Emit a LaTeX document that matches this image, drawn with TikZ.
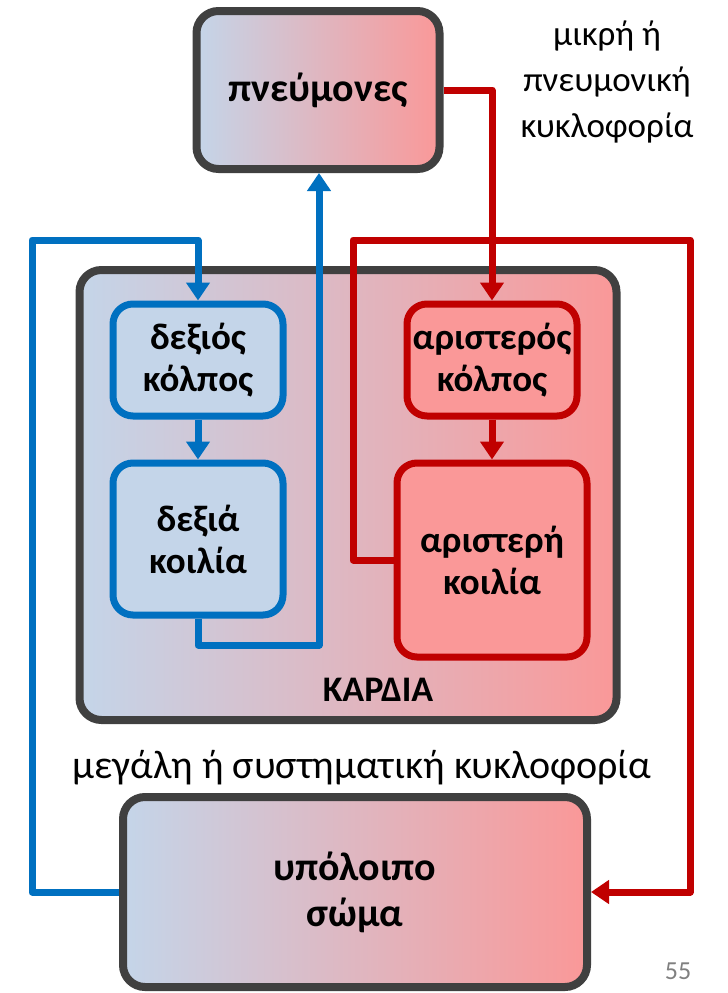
\documentclass[tikz,border=0pt]{standalone}
\usepackage{fontspec}
\setmainfont{Carlito}
\usetikzlibrary{arrows.meta}
\definecolor{bodyblue}{RGB}{196,213,233}
\definecolor{bodypink}{RGB}{250,152,152}
\definecolor{veinblue}{RGB}{0,112,192}
\definecolor{arteryred}{RGB}{192,0,0}
\definecolor{boxgray}{RGB}{64,64,64}
\begin{document}
\begin{tikzpicture}[
  x=1pt, y=-1pt,
  organ/.style={rectangle, rounded corners=22pt, draw=boxgray, line width=8pt,
    left color=bodyblue, right color=bodypink, align=center,
    font=\bfseries\fontsize{40}{46}\selectfont},
  rchamber/.style={rectangle, rounded corners=20pt, draw=veinblue, line width=7pt,
    fill=bodyblue, minimum width=170pt, align=center,
    font=\bfseries\fontsize{37}{42}\selectfont},
  lchamber/.style={rectangle, rounded corners=20pt, draw=arteryred, line width=7pt,
    fill=bodypink, align=center,
    font=\bfseries\fontsize{37}{42}\selectfont},
  blueflow/.style={veinblue, line width=7pt, line join=round},
  redflow/.style={arteryred, line width=7pt, line join=round},
  tip/.style={-{Triangle[width=23pt,length=18pt]}},
  loopname/.style={align=center, font=\fontsize{35}{46}\selectfont}
]
\useasboundingbox (0,0) rectangle (728,993);

% organs
\node[organ, minimum width=243pt, minimum height=158pt] (lungs) at (318,90) {πνεύμονες};
\node[organ, minimum width=537pt, minimum height=450pt] (heart) at (348,495) {};
\node[organ, minimum width=464pt, minimum height=190pt] (body) at (355,892) {υπόλοιπο\\σώμα};

% chambers
\node[rchamber, minimum height=112pt] (ra) at (198,360) {δεξιός\\κόλπος};
\node[rchamber, minimum height=152pt] (rv) at (198,539) {δεξιά\\κοιλία};
\node[lchamber, minimum width=170pt, minimum height=112pt] (la) at (492,360) {αριστερός\\κόλπος};
\node[lchamber, minimum width=190pt, minimum height=194pt] (lv) at (492,560) {αριστερή\\κοιλία};

% labels
\node[font=\bfseries\fontsize{36}{44}\selectfont] (heartname) at (378,690) {ΚΑΡΔΙΑ};
\node[loopname] (smallloop) at (607,82) {μικρή ή\\πνευμονική\\κυκλοφορία};
\node[loopname, font=\fontsize{40}{46}\selectfont] (bigloop) at (362,768) {μεγάλη ή συστηματική κυκλοφορία};
\node[text=gray, font=\fontsize{26}{30}\selectfont] (page) at (678,971) {55};

% bends
\coordinate (bl) at (32,240);
\coordinate (br) at (319,645);
\coordinate (rl) at (353,240);
\coordinate (rr) at (690,240);

% blue flow
\draw[blueflow, tip] (body.west) -| (bl) -| (ra.north);
\draw[blueflow, tip] (ra.south) -- (rv.north);
\draw[blueflow, tip] (rv.south) |- (br) -- (br |- lungs.south);

% red flow
\draw[redflow, tip] (lungs.east) -| (la.north);
\draw[redflow, tip] (la.south) -- (lv.north);
\draw[redflow, tip] (lv.west) -| (rl) -- (rr) |- (body.east);

\end{tikzpicture}
\end{document}
